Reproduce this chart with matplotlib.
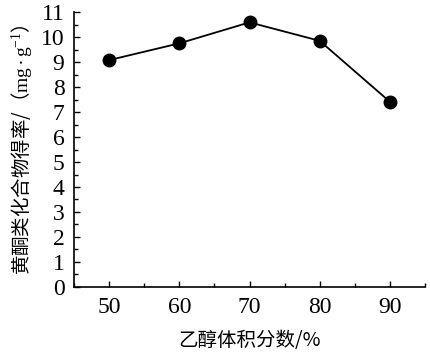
import matplotlib

matplotlib.use("Agg")
import matplotlib.pyplot as plt
from matplotlib.ticker import MultipleLocator

ethanol = [50, 60, 70, 80, 90]
flavonoid_yield = [9.08, 9.75, 10.59, 9.85, 7.41]
x_ticks = [50, 60, 70, 80, 90]
y_ticks = list(range(0, 12))

cjk = ["Noto Sans CJK SC", "DejaVu Sans"]

plt.rcParams["font.family"] = ["Liberation Serif", "DejaVu Serif"]
plt.rcParams["mathtext.fontset"] = "custom"
plt.rcParams["mathtext.rm"] = "Liberation Serif"
plt.rcParams["mathtext.it"] = "Liberation Serif:italic"

fig = plt.figure(figsize=(4.31, 3.56), dpi=100)
ax = fig.add_axes([0.172, 0.194, 0.814, 0.772])

ax.plot(ethanol, flavonoid_yield, color="black", lw=1.3, marker="o", ms=9)

ax.set_xlim(45, 95)
ax.set_ylim(0, 11)
ax.set_xticks(x_ticks)
ax.set_yticks(y_ticks)
ax.xaxis.set_minor_locator(MultipleLocator(5))
ax.yaxis.set_minor_locator(MultipleLocator(0.5))
ax.tick_params(which="both", direction="in", width=1, color="black")
ax.tick_params(which="major", length=4, labelsize=17, pad=7)
ax.tick_params(which="minor", length=3)

for s in ["top", "right"]:
    ax.spines[s].set_visible(False)
for s in ["left", "bottom"]:
    ax.spines[s].set_linewidth(1.2)

ax.set_xlabel("乙醇体积分数/%", family=cjk, fontsize=14, labelpad=9)
ax.set_ylabel(r"黄酮类化合物得率/（$\mathrm{mg}\bullet\mathrm{g}^{-1}$）",
              family=cjk, fontsize=14, labelpad=5)

fig.savefig("out.png", dpi=100)
